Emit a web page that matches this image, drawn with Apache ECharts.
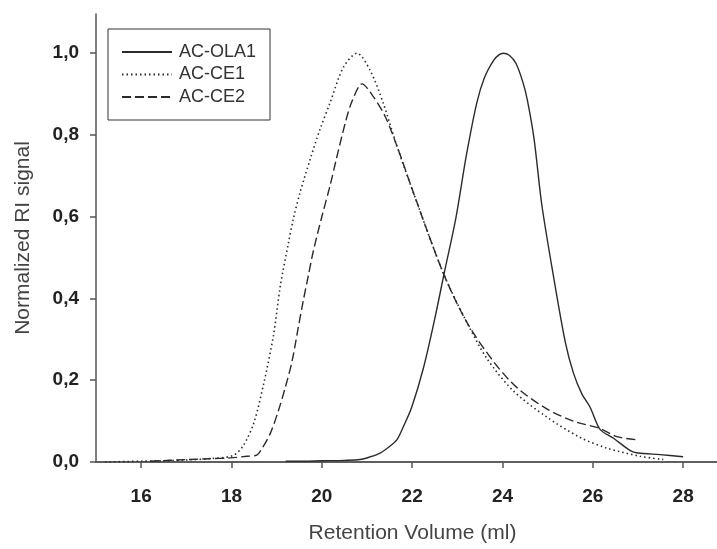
<!DOCTYPE html>
<html>
<head>
<meta charset="utf-8">
<script src="https://cdn.jsdelivr.net/npm/echarts@6/dist/echarts.min.js"></script>
<style>
  html, body { margin: 0; padding: 0; background: #fff; }
  #chart { width: 717px; height: 549px; }
</style>
</head>
<body>
<div id="chart"></div>
<script>
// Normalized refractive-index traces vs. retention volume (ml)
const seriesNames = ['AC-OLA1', 'AC-CE1', 'AC-CE2'];

const olaX = [19.2, 19.6, 20.0, 20.5, 20.85, 21.05, 21.29, 21.5, 21.66, 21.8, 21.99, 22.25, 22.5, 22.71, 22.97, 23.2, 23.43, 23.6, 23.8, 23.92, 24.02, 24.15, 24.3, 24.45, 24.55, 24.7, 24.87, 25.13, 25.39, 25.57, 25.76, 25.94, 26.16, 26.46, 26.83, 27.0, 27.49, 28.0];
const olaY = [0.002, 0.002, 0.003, 0.004, 0.006, 0.012, 0.022, 0.038, 0.054, 0.085, 0.134, 0.23, 0.35, 0.462, 0.598, 0.75, 0.878, 0.94, 0.982, 0.996, 1.0, 0.995, 0.975, 0.93, 0.886, 0.79, 0.63, 0.454, 0.294, 0.218, 0.166, 0.134, 0.08, 0.058, 0.028, 0.022, 0.018, 0.013];

const ce1X = [15.2, 16.0, 16.5, 17.0, 17.5, 18.04, 18.26, 18.49, 18.71, 18.93, 19.08, 19.26, 19.37, 19.52, 19.74, 19.96, 20.18, 20.48, 20.78, 21.07, 21.36, 21.66, 22.07, 22.69, 23.21, 23.65, 24.24, 24.98, 25.72, 26.31, 27.05, 27.56];
const ce1Y = [0.0, 0.002, 0.003, 0.005, 0.008, 0.016, 0.04, 0.094, 0.19, 0.31, 0.43, 0.535, 0.595, 0.66, 0.74, 0.814, 0.878, 0.966, 1.0, 0.958, 0.878, 0.774, 0.646, 0.462, 0.342, 0.254, 0.174, 0.11, 0.06, 0.034, 0.014, 0.006];

const ce2X = [16.2, 17.0, 17.5, 17.97, 18.34, 18.56, 18.66, 18.86, 19.04, 19.19, 19.34, 19.48, 19.59, 19.7, 19.81, 20.0, 20.18, 20.33, 20.52, 20.66, 20.89, 21.14, 21.4, 21.66, 22.07, 22.69, 23.21, 23.8, 24.32, 24.98, 25.57, 26.16, 26.53, 27.01];
const ce2Y = [0.002, 0.006, 0.008, 0.01, 0.014, 0.017, 0.03, 0.07, 0.126, 0.182, 0.246, 0.33, 0.395, 0.455, 0.515, 0.6, 0.675, 0.745, 0.83, 0.88, 0.925, 0.894, 0.846, 0.774, 0.646, 0.462, 0.342, 0.246, 0.182, 0.13, 0.10, 0.082, 0.062, 0.054];

const xTicks = [16, 18, 20, 22, 24, 26, 28];
const yTicks = [0, 0.2, 0.4, 0.6, 0.8, 1.0];

const pairs = (xs, ys) => xs.map((x, i) => [x, ys[i]]);

const ink = '#2b2b2b';
const axisInk = '#555555';
const font = '"Liberation Sans", Arial, sans-serif';

const chart = echarts.init(document.getElementById('chart'), null, { renderer: 'canvas' });

const lineSeries = (name, data, lineType, width) => ({
  name, type: 'line', xAxisIndex: 0, data,
  symbol: 'circle', showSymbol: false,
  smooth: 0.3,
  lineStyle: { color: ink, width, type: lineType },
  itemStyle: { color: ink }
});

chart.setOption({
  animation: false,
  backgroundColor: '#ffffff',
  grid: { left: 96, right: 0, top: 14, bottom: 80, containLabel: false },
  legend: {
    orient: 'vertical',
    left: 108,
    top: 29,
    data: seriesNames,
    itemWidth: 50,
    itemHeight: 14,
    itemGap: 4.5,
    padding: [14, 14, 14, 13],
    borderColor: '#333333',
    borderWidth: 1,
    itemStyle: { opacity: 0 },
    textStyle: { fontFamily: font, fontSize: 18, lineHeight: 18, color: '#333333', padding: [0, 0, 0, 2] }
  },
  xAxis: [{
    type: 'value',
    min: 15,
    max: 28.75,
    position: 'bottom',
    name: 'Retention Volume (ml)',
    nameLocation: 'middle',
    nameGap: 61,
    nameTextStyle: { fontFamily: font, fontSize: 21, color: '#444444', padding: [0, 0, 0, 12] },
    axisLine: { show: true, onZero: false, lineStyle: { color: axisInk, width: 1.5 } },
    axisTick: { show: true, inside: false, length: 6, customValues: xTicks, lineStyle: { color: axisInk, width: 1.5 } },
    axisLabel: {
      customValues: xTicks,
      margin: 25,
      fontFamily: font, fontSize: 19, fontWeight: 'bold', color: '#222222'
    },
    splitLine: { show: false }
  }, {
    type: 'value',
    min: 15,
    max: 28.75,
    position: 'top',
    axisLine: { show: true, lineStyle: { color: axisInk, width: 1.5 } },
    axisTick: { show: false },
    axisLabel: { show: false },
    splitLine: { show: false }
  }],
  yAxis: {
    type: 'value',
    min: 0,
    max: 1.096,
    name: 'Normalized RI signal',
    nameLocation: 'middle',
    nameGap: 62,
    nameTextStyle: { fontFamily: font, fontSize: 21, color: '#444444' },
    axisLine: { show: true, lineStyle: { color: axisInk, width: 1.5 } },
    axisTick: { show: true, inside: false, length: 6, customValues: yTicks, lineStyle: { color: axisInk, width: 1.5 } },
    axisLabel: {
      customValues: yTicks,
      margin: 17,
      formatter: v => v.toFixed(1).replace('.', ','),
      fontFamily: font, fontSize: 19, fontWeight: 'bold', color: '#222222'
    },
    splitLine: { show: false }
  },
  series: [
    lineSeries(seriesNames[0], pairs(olaX, olaY), 'solid', 1.4),
    lineSeries(seriesNames[1], pairs(ce1X, ce1Y), [1.5, 3], 1.6),
    lineSeries(seriesNames[2], pairs(ce2X, ce2Y), [9, 4], 1.4)
  ]
});
</script>
</body>
</html>
